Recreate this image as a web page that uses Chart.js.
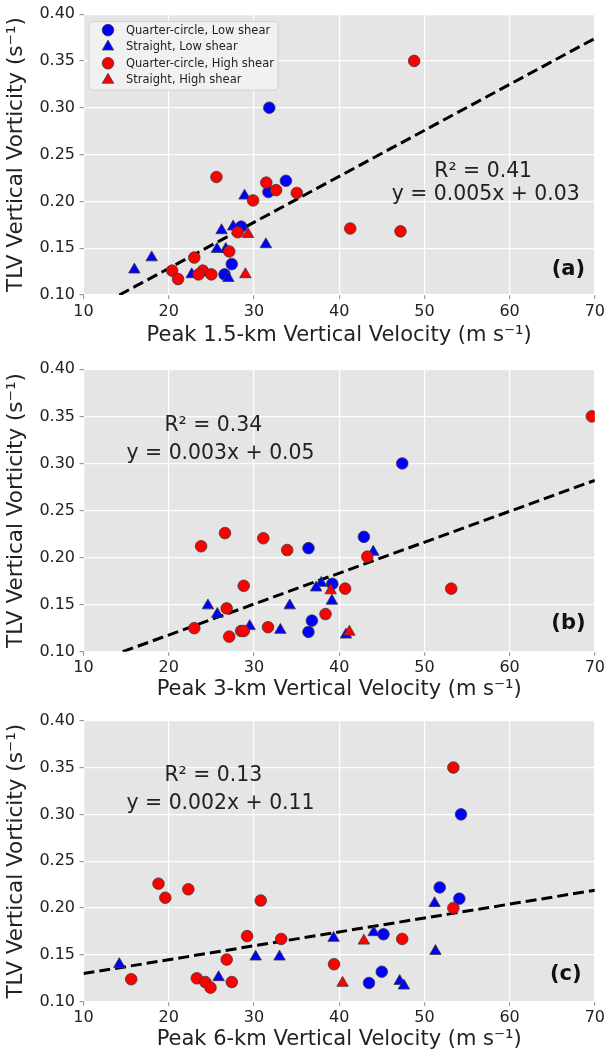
<!DOCTYPE html>
<html><head><meta charset="utf-8">
<script src="https://cdn.jsdelivr.net/npm/chart.js@4.4.1/dist/chart.umd.min.js"></script>
<style>
html,body{margin:0;padding:0;background:#fff;}
#wrap{position:relative;width:608px;height:1054px;overflow:hidden;}
canvas{position:absolute;left:0;}
</style></head><body>
<div id="wrap">
<canvas id="ca" style="top:0px" width="608" height="352"></canvas>
<canvas id="cb" style="top:352px" width="608" height="352"></canvas>
<canvas id="cc" style="top:704px" width="608" height="350"></canvas>
</div>
<script>
// ---------- data ----------
const seriesNames = ['Quarter-circle, Low shear','Straight, Low shear','Quarter-circle, High shear','Straight, High shear'];
const xTicks = [10,20,30,40,50,60,70];
const yTicks = [0.10,0.15,0.20,0.25,0.30,0.35,0.40];

// TLV vorticity (y) vs peak vertical velocity (x)
// panel (a): 1.5 km
const qcLowA_x = [31.8, 33.75, 31.7, 28.5, 27.4, 26.55];
const qcLowA_y = [0.300, 0.222, 0.210, 0.173, 0.133, 0.122];
const stLowA_x = [28.9, 27.56, 26.2, 31.4, 25.66, 26.7, 18.0, 15.97, 22.7, 27.0];
const stLowA_y = [0.206, 0.173, 0.169, 0.154, 0.149, 0.149, 0.140, 0.127, 0.122, 0.118];
const qcHighA_x = [48.8, 25.6, 31.45, 32.6, 35.03, 29.9, 41.3, 28.1, 47.2, 27.1, 23.0, 20.4, 24.0, 23.5, 25.0, 21.1];
const qcHighA_y = [0.350, 0.226, 0.220, 0.212, 0.209, 0.201, 0.171, 0.167, 0.168, 0.1465, 0.140, 0.126, 0.126, 0.122, 0.122, 0.117];
const stHighA_x = [29.3, 29.0];
const stHighA_y = [0.165, 0.122];
const fitA_x = [14.2, 70];
const fitA_y = [0.10, 0.374];

// panel (b): 3 km
const qcLowB_x = [47.4, 42.9, 36.4, 39.2, 36.8, 36.4];
const qcLowB_y = [0.300, 0.222, 0.210, 0.172, 0.133, 0.121];
const stLowB_x = [44.0, 37.9, 37.3, 39.15, 24.6, 34.2, 25.7, 29.5, 33.1, 40.8];
const stLowB_y = [0.206, 0.173, 0.168, 0.154, 0.149, 0.149, 0.140, 0.127, 0.123, 0.118];
const qcHighB_x = [69.65, 26.6, 31.1, 23.8, 33.9, 43.3, 28.8, 53.15, 40.7, 26.8, 38.4, 31.65, 23.0, 28.5, 28.8, 27.1];
const qcHighB_y = [0.350, 0.226, 0.2205, 0.212, 0.208, 0.201, 0.170, 0.167, 0.167, 0.146, 0.140, 0.126, 0.125, 0.122, 0.122, 0.116];
const stHighB_x = [39.0, 41.2];
const stHighB_y = [0.165, 0.121];
const fitB_x = [14.6, 70];
const fitB_y = [0.10, 0.282];

// panel (c): 6 km
const qcLowC_x = [54.3, 51.8, 54.1, 45.2, 45.0, 43.5];
const qcLowC_y = [0.300, 0.222, 0.210, 0.172, 0.132, 0.120];
const stLowC_x = [51.2, 44.05, 39.35, 51.3, 30.2, 33.0, 14.2, 25.85, 47.1, 47.6];
const stLowC_y = [0.205, 0.174, 0.168, 0.154, 0.148, 0.148, 0.140, 0.126, 0.122, 0.117];
const qcHighC_x = [53.4, 18.8, 22.3, 19.6, 30.8, 53.4, 29.2, 33.2, 47.4, 26.8, 39.4, 23.3, 15.6, 24.3, 27.4, 24.9];
const qcHighC_y = [0.350, 0.226, 0.220, 0.211, 0.208, 0.200, 0.170, 0.167, 0.167, 0.145, 0.140, 0.125, 0.124, 0.121, 0.121, 0.115];
const stHighC_x = [42.9, 40.4];
const stHighC_y = [0.165, 0.120];
const fitC_x = [10, 70];
const fitC_y = [0.130, 0.219];

const xTitles = ['Peak 1.5-km Vertical Velocity (m s\u207B\u00B9)','Peak 3-km Vertical Velocity (m s\u207B\u00B9)','Peak 6-km Vertical Velocity (m s\u207B\u00B9)'];
const yTitle = 'TLV Vertical Vorticity (s\u207B\u00B9)';
const r2Texts = ['R\u00B2 = 0.41','R\u00B2 = 0.34','R\u00B2 = 0.13'];
const eqTexts = ['y = 0.005x + 0.03','y = 0.003x + 0.05','y = 0.002x + 0.11'];
const panelTags = ['(a)','(b)','(c)'];

// ---------- styling ----------
const FONT = 'DejaVu Sans';
const styles = [
  {pointStyle:'circle', radius:5.8, color:'#0000ff'},
  {pointStyle:'triangle', radius:6.6, color:'#0000ff'},
  {pointStyle:'circle', radius:5.8, color:'#ff0000'},
  {pointStyle:'triangle', radius:6.6, color:'#ff0000'}
];
const EDGE = '#3a3a3a';

function pts(xs, ys){ return xs.map((x,i)=>({x:x, y:ys[i]})); }

const bgPlugin = {
  id:'bg',
  beforeDraw(chart){
    const {ctx, chartArea:a} = chart;
    ctx.save(); ctx.fillStyle = '#e5e5e5';
    ctx.fillRect(a.left, a.top, a.right-a.left, a.bottom-a.top);
    ctx.restore();
  }
};

function textPlugin(p){
  return {
    id:'txt'+p.idx,
    afterDraw(chart){
      const ctx = chart.ctx, xs = chart.scales.x, ys = chart.scales.y;
      ctx.save();
      ctx.fillStyle = '#222';
      ctx.textAlign = 'center';
      ctx.textBaseline = 'alphabetic';
      ctx.font = '20.4px "' + FONT + '"';
      ctx.fillText(r2Texts[p.idx], xs.getPixelForValue(p.r2x), ys.getPixelForValue(p.r2y));
      ctx.fillText(eqTexts[p.idx], xs.getPixelForValue(p.eqx), ys.getPixelForValue(p.eqy));
      ctx.font = 'bold 21px "' + FONT + '"';
      ctx.fillStyle = '#111';
      ctx.fillText(panelTags[p.idx], xs.getPixelForValue(p.tagx), ys.getPixelForValue(p.tagy));
      if (p.legend){
        const L = chart.chartArea.left, T = chart.chartArea.top;
        const bx = L + 5.5, by = T + 7.5, bw = 189, bh = 68.5;
        ctx.beginPath();
        if (ctx.roundRect) ctx.roundRect(bx, by, bw, bh, 4); else ctx.rect(bx,by,bw,bh);
        ctx.fillStyle = 'rgba(242,242,242,0.9)';
        ctx.fill();
        ctx.strokeStyle = '#d0d0d0'; ctx.lineWidth = 1; ctx.stroke();
        ctx.font = '11.5px "' + FONT + '"';
        ctx.textAlign = 'left'; ctx.textBaseline = 'middle';
        for (let i=0;i<seriesNames.length;i++){
          const cy = by + 8.5 + i*16.6;
          const st = styles[i];
          ctx.fillStyle = st.color; ctx.strokeStyle = EDGE; ctx.lineWidth = 0.8;
          Chart.helpers.drawPoint(ctx, {pointStyle:st.pointStyle, radius:st.radius, rotation:0, borderWidth:0.8}, bx + 19, cy);
          ctx.fillStyle = '#222';
          ctx.fillText(seriesNames[i], bx + 37, cy + 0.5);
        }
      }
      ctx.restore();
    }
  };
}

function makeChart(id, p){
  const sets = [[p.qlx,p.qly],[p.slx,p.sly],[p.qhx,p.qhy],[p.shx,p.shy]];
  const datasets = sets.map((s,i)=>({
    label: seriesNames[i],
    data: pts(s[0], s[1]),
    pointStyle: styles[i].pointStyle,
    pointRadius: styles[i].radius,
    backgroundColor: styles[i].color,
    borderColor: EDGE,
    borderWidth: 0.8,
    order: 4 - i
  }));
  datasets.push({
    type:'line', label:'fit', data: pts(p.fx, p.fy),
    borderColor:'#000', borderWidth:3, borderDash:[11,5], pointRadius:0, fill:false,
    order: 10, tension:0
  });
  new Chart(document.getElementById(id), {
    type:'scatter',
    data:{datasets},
    options:{
      responsive:false, animation:false, events:[],
      devicePixelRatio:1,
      plugins:{legend:{display:false}, tooltip:{enabled:false}},
      layout:{padding:{top:p.padTop, right:10.3, left:0, bottom:0}},
      scales:{
        x:{
          type:'linear', min:10, max:70,
          afterBuildTicks(s){ s.ticks = xTicks.map(v=>({value:v})); },
          ticks:{font:{family:FONT, size:16}, color:'#222', padding:3, maxRotation:0, autoSkip:false},
          grid:{color:'#ffffff', lineWidth:1.2, tickColor:'#9a9a9a', tickLength:4},
          border:{display:false},
          title:{display:true, text:xTitles[p.idx], font:{family:FONT, size:21}, color:'#222', padding:{top:0, bottom:p.xTitlePad}},
          afterFit(s){ s.height = p.xH; }
        },
        y:{
          type:'linear', min:0.1, max:0.4,
          afterBuildTicks(s){ s.ticks = yTicks.map(v=>({value:v})); },
          ticks:{font:{family:FONT, size:16}, color:'#222', padding:4.5, callback:v=>Number(v).toFixed(2), autoSkip:false},
          grid:{color:'#ffffff', lineWidth:1.2, tickColor:'#9a9a9a', tickLength:4},
          border:{display:false},
          title:{display:true, text:yTitle, font:{family:FONT, size:21.5}, color:'#222', padding:{top:4, bottom:0}},
          afterFit(s){ s.width = 83.5; }
        }
      }
    },
    plugins:[bgPlugin, textPlugin(p)]
  });
}

makeChart('ca', {idx:0, padTop:13.3, xH:57, xTitlePad:4.2,
  qlx:qcLowA_x, qly:qcLowA_y, slx:stLowA_x, sly:stLowA_y, qhx:qcHighA_x, qhy:qcHighA_y, shx:stHighA_x, shy:stHighA_y,
  fx:fitA_x, fy:fitA_y, r2x:56.9, r2y:0.2259, eqx:57.2, eqy:0.2011, tagx:66.9, tagy:0.1215, legend:true});
makeChart('cb', {idx:1, padTop:17.3, xH:52.3, xTitlePad:1.5,
  qlx:qcLowB_x, qly:qcLowB_y, slx:stLowB_x, sly:stLowB_y, qhx:qcHighB_x, qhy:qcHighB_y, shx:stHighB_x, shy:stHighB_y,
  fx:fitB_x, fy:fitB_y, r2x:25.23, r2y:0.3349, eqx:26.08, eqy:0.3045, tagx:66.9, tagy:0.1245, legend:false});
makeChart('cc', {idx:2, padTop:16.7, xH:52.3, xTitlePad:1.5,
  qlx:qcLowC_x, qly:qcLowC_y, slx:stLowC_x, sly:stLowC_y, qhx:qcHighC_x, qhy:qcHighC_y, shx:stHighC_x, shy:stHighC_y,
  fx:fitC_x, fy:fitC_y, r2x:25.23, r2y:0.336, eqx:26.08, eqy:0.3054, tagx:66.6, tagy:0.1235, legend:false});
</script>
</body></html>
